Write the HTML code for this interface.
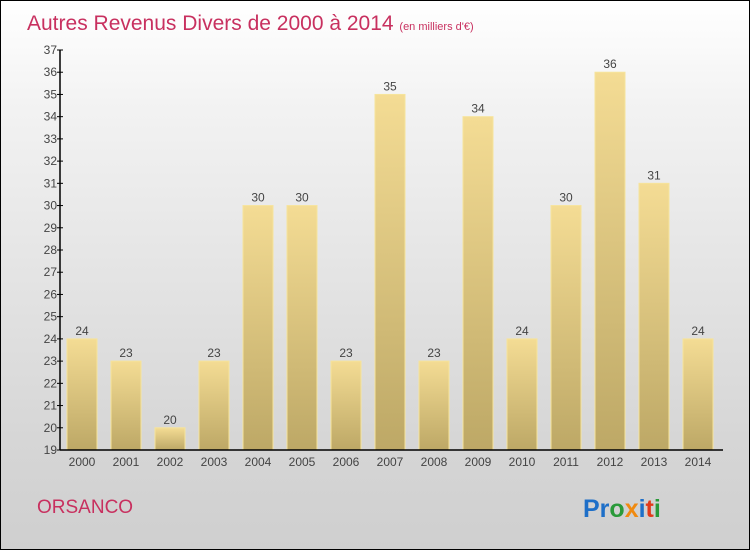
<!DOCTYPE html>
<html><head><meta charset="utf-8"><style>
body{margin:0}
#wrap{position:relative;width:748px;height:548px;border:1px solid #000;background:linear-gradient(#ffffff,#f2f2f2 20%,#d6d6d6 80%,#cfcfcf);overflow:hidden;font-family:"Liberation Sans",sans-serif}
</style></head><body>
<div id="wrap">
<svg width="748" height="548">
<defs><linearGradient id="bg" x1="0" y1="0" x2="0" y2="1"><stop offset="0" stop-color="#f4dc94"/><stop offset="1" stop-color="#bda866"/></linearGradient></defs>
<text x="26" y="29" font-size="21" fill="#c8305f">Autres Revenus Divers de 2000 à 2014 <tspan font-size="11">(en milliers d'€)</tspan></text>
<g id="plot"></g>
<text x="36" y="512" font-size="19" fill="#c8305f">ORSANCO</text>
<text x="582" y="516" font-size="25" font-weight="bold"><tspan fill="#1e6fc8">Pr</tspan><tspan fill="#2a9a3a">o</tspan><tspan fill="#f08a10">x</tspan><tspan fill="#1e6fc8">i</tspan><tspan fill="#e23a1a">t</tspan><tspan fill="#2a9a3a">i</tspan></text>
</svg>
</div>
<script>
const categories=["2000","2001","2002","2003","2004","2005","2006","2007","2008","2009","2010","2011","2012","2013","2014"];
const values=[24,23,20,23,30,30,23,35,23,34,24,30,36,31,24];
const yTicks=[19,20,21,22,23,24,25,26,27,28,29,30,31,32,33,34,35,36,37];
const NS="http://www.w3.org/2000/svg";
const g=document.getElementById('plot');
const X0=59,Y0=449,YMIN=19,YMAX=37,YTOP=49;
const y=v=>Y0-(v-YMIN)*(Y0-YTOP)/(YMAX-YMIN);
const x=i=>66+i*44;
function mk(t,a,txt){const e=document.createElementNS(NS,t);for(const k in a)e.setAttribute(k,a[k]);if(txt!=null)e.textContent=txt;g.appendChild(e);return e;}
yTicks.forEach(t=>{
 const l=mk('line',{x1:X0-3,x2:X0+3,y1:y(t),y2:y(t),stroke:'#000'});
 
 
 const tx=mk('text',{x:X0-3,y:y(t)+4,'text-anchor':'end','font-size':12,fill:'#444'},t);
 
 
});
values.forEach((v,i)=>{
 const r=mk('rect',{x:x(i),y:y(v),width:30,height:Y0-y(v),fill:'url(#bg)',stroke:'#f6e49c','stroke-width':1});
 
 
 const vl=mk('text',{x:x(i)+15,y:y(v)-4,'text-anchor':'middle','font-size':12,fill:'#444'},v);
 
 
 const cl=mk('text',{x:x(i)+15,y:Y0+16,'text-anchor':'middle','font-size':12,fill:'#444'},categories[i]);
 
 
});
const ya=mk('line',{x1:X0,x2:X0,y1:YTOP,y2:Y0,stroke:'#000','stroke-width':1.5});


const xa=mk('line',{x1:X0,x2:722,y1:Y0,y2:Y0,stroke:'#000','stroke-width':1.5});


</script>
</body></html>
